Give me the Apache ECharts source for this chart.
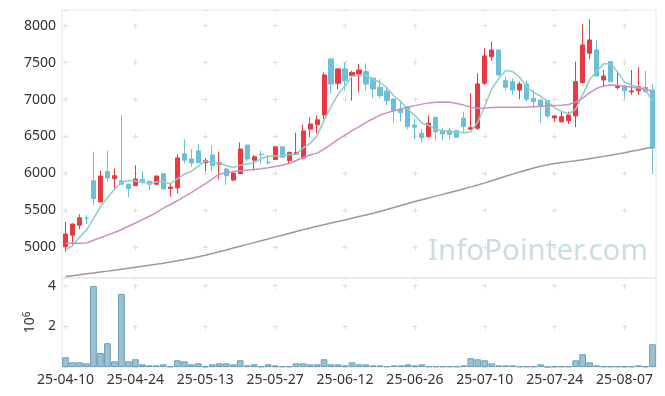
<!DOCTYPE html>
<html><head><meta charset="utf-8">
<script src="https://cdn.jsdelivr.net/npm/echarts@6/dist/echarts.min.js"></script>
<style>html,body{margin:0;padding:0;background:#fff}#c{width:665px;height:396px}</style>
</head><body><div id="c"></div>
<script>
const dates = ['25-04-10','25-04-11','25-04-14','25-04-15','25-04-16','25-04-17','25-04-18','25-04-21','25-04-22','25-04-23',
'25-04-24','25-04-25','25-04-28','25-04-29','25-04-30','25-05-02','25-05-07','25-05-08','25-05-09','25-05-12',
'25-05-13','25-05-14','25-05-15','25-05-16','25-05-19','25-05-20','25-05-21','25-05-22','25-05-23','25-05-26',
'25-05-27','25-05-28','25-05-29','25-05-30','25-06-02','25-06-04','25-06-05','25-06-09','25-06-10','25-06-11',
'25-06-12','25-06-13','25-06-16','25-06-17','25-06-18','25-06-19','25-06-20','25-06-23','25-06-24','25-06-25',
'25-06-26','25-06-27','25-06-30','25-07-01','25-07-02','25-07-03','25-07-04','25-07-07','25-07-08','25-07-09',
'25-07-10','25-07-11','25-07-14','25-07-15','25-07-16','25-07-17','25-07-18','25-07-21','25-07-22','25-07-23',
'25-07-24','25-07-25','25-07-28','25-07-29','25-07-30','25-07-31','25-08-01','25-08-04','25-08-05','25-08-06',
'25-08-07','25-08-08','25-08-11','25-08-12','25-08-13'];
const opens = [5010,5165,5300,5395,5900,5615,6025,5930,5900,5855,
5835,5920,5895,5855,5995,5795,5805,6265,6195,6305,
6145,6250,6125,6060,5910,6000,6385,6180,6260,6150,
6190,6360,6175,6263,6210,6600,6660,6790,7550,7220,
7415,7325,7345,7378,7288,7165,7115,7008,6872,6905,
6656,6543,6498,6760,6580,6580,6579,6750,6598,6611,
7221,7580,7671,7256,7242,7130,7211,7017,6994,6985,
6750,6700,6714,6778,7229,7627,7671,7265,7513,7161,
7184,7103,7120,7166,7130];
const closes = [5180,5315,5400,5390,5660,5965,5940,5970,5855,5795,
5925,5880,5855,5965,5790,5815,6210,6180,6140,6145,
6175,6105,6145,5970,6005,6330,6195,6225,6255,6145,
6360,6220,6285,6285,6575,6670,6725,7333,7210,7414,
7255,7365,7400,7210,7143,7053,6985,6850,6822,6633,
6625,6484,6679,6565,6535,6530,6490,6633,6620,7211,
7590,7671,7333,7166,7130,7211,7004,6971,6904,6778,
6778,6768,6791,7242,7739,7807,7319,7319,7242,7175,
7120,7116,7175,7107,6340];
const lows = [4940,5030,5245,5315,5570,5610,5890,5800,5850,5680,
5830,5855,5775,5840,5785,5685,5730,6137,6090,6140,
6025,6035,5920,5843,5895,5995,6160,6040,6130,6115,
6185,6215,6130,6260,6190,6490,6540,6735,7075,7140,
7120,6985,7100,7120,7020,7018,6923,6687,6700,6598,
6462,6416,6490,6443,6453,6455,6488,6543,6588,6588,
7197,7527,7320,7120,7062,7004,6971,6904,6687,6747,
6700,6687,6670,6625,7220,7546,7310,7166,7235,7139,
7017,7062,7062,7094,5992];
const highs = [5345,5325,5447,5437,6295,6035,6310,6070,6790,5860,
6110,6025,5900,5970,6000,5857,6260,6462,6330,6395,
6205,6380,6295,6075,6015,6420,6390,6250,6310,6250,
6370,6365,6295,6550,6660,6760,6785,7365,7555,7425,
7495,7390,7480,7490,7300,7275,7175,7010,6985,6910,
6747,6600,6782,6765,6611,6611,6585,6836,7085,7356,
7694,7784,7675,7302,7288,7242,7256,7130,7004,6990,
6790,6836,6836,7513,8023,8087,7807,7400,7520,7378,
7197,7400,7437,7387,7211];
const volumes = [480000,230000,230000,180000,3990000,690000,1170000,280000,3600000,280000,
380000,130000,80000,80000,130000,30000,330000,280000,130000,180000,
30000,130000,180000,180000,130000,330000,80000,130000,30000,130000,
80000,30000,30000,180000,180000,130000,130000,380000,130000,130000,
80000,230000,130000,130000,80000,80000,30000,80000,80000,130000,
80000,130000,30000,30000,30000,30000,30000,80000,430000,380000,
330000,180000,80000,80000,80000,30000,30000,30000,130000,0,
30000,30000,30000,330000,630000,230000,80000,30000,30000,30000,
30000,30000,80000,30000,1120000];
const ma5 = [4963,5022,5135,5234,5389,5546,5671,5785,5878,5905,
5897,5885,5862,5884,5883,5861,5927,5992,6027,6098,
6170,6149,6142,6108,6080,6111,6129,6145,6202,6230,
6236,6241,6253,6259,6345,6407,6508,6718,6903,7070,
7187,7315,7329,7329,7275,7234,7158,7048,6971,6869,
6783,6683,6649,6597,6578,6559,6560,6551,6562,6697,
6909,7145,7285,7394,7378,7302,7169,7096,7044,6974,
6887,6840,6804,6871,7064,7269,7380,7485,7485,7372,
7235,7194,7166,7139,6972];
const ma20 = [5054,5054,5054,5058,5095,5130,5165,5200,5238,5285,
5330,5375,5420,5470,5530,5580,5630,5685,5740,5800,
5860,5925,5990,6010,6025,6035,6045,6055,6065,6078,
6093,6110,6135,6175,6215,6250,6275,6330,6395,6460,
6520,6580,6630,6690,6740,6790,6820,6848,6872,6895,
6918,6938,6955,6965,6968,6962,6948,6925,6895,6882,
6884,6893,6897,6896,6895,6897,6900,6904,6908,6913,
6918,6923,6932,6965,7020,7090,7150,7185,7198,7193,
7180,7165,7152,7140,7110];
const ma120 = [4605,4617,4629,4641,4653,4666,4678,4691,4704,4717,
4731,4744,4758,4772,4786,4801,4817,4834,4852,4872,
4894,4917,4941,4965,4990,5015,5040,5064,5089,5113,
5138,5163,5188,5213,5238,5262,5285,5307,5328,5349,
5370,5393,5416,5439,5462,5486,5512,5539,5566,5593,
5620,5645,5669,5693,5717,5741,5766,5792,5818,5844,
5872,5901,5931,5961,5991,6020,6047,6073,6097,6118,
6135,6148,6160,6172,6185,6200,6215,6231,6247,6263,
6280,6299,6318,6338,6358];

const FONT = 'Noto Sans';
const plus = '#dedede';
const ohlc = dates.map((d, i) => [opens[i], closes[i], lows[i], highs[i]]);
const chart = echarts.init(document.getElementById('c'), null, {renderer: 'canvas'});
chart.setOption({
  animation: false,
  backgroundColor: '#ffffff',
  textStyle: {fontFamily: FONT},
  grid: [
    {left: 62, right: 9, top: 10, height: 268, show: true, borderColor: '#e6e6e6', borderWidth: 1},
    {left: 62, right: 9, top: 278, height: 89, show: true, borderColor: '#e6e6e6', borderWidth: 1}
  ],
  xAxis: [
    {type: 'category', gridIndex: 0, data: dates, boundaryGap: true,
     axisLine: {show: false}, axisTick: {show: false}, axisLabel: {show: false},
     splitLine: {show: true, interval: 9, alignWithLabel: true,
       lineStyle: {color: plus, width: 1, type: [5, 31.945], dashOffset: 23.78}}},
    {type: 'category', gridIndex: 1, data: dates, boundaryGap: true,
     axisLine: {show: false}, axisTick: {show: false},
     axisLabel: {interval: 9, fontFamily: FONT, fontSize: 14, color: '#333', margin: 6},
     splitLine: {show: true, interval: 9, alignWithLabel: true,
       lineStyle: {color: plus, width: 1, type: [5, 35.6], dashOffset: 34.4}}}
  ],
  yAxis: [
    {type: 'value', gridIndex: 0, min: 4585, max: 8212, splitNumber: 7,
     axisLine: {show: false}, axisTick: {show: false},
     axisLabel: {showMinLabel: false, showMaxLabel: false, fontFamily: FONT, fontSize: 14, color: '#333', margin: 6,
       formatter: v => String(v)},
     splitLine: {show: true, lineStyle: {color: plus, width: 1, type: [5, 64.88], dashOffset: 68.88}}},
    {type: 'value', gridIndex: 1, min: 0, max: 4380000, splitNumber: 2,
     axisLine: {show: false}, axisTick: {show: false},
     axisLabel: {showMinLabel: false, showMaxLabel: false, fontFamily: FONT, fontSize: 14, color: '#333', margin: 6,
       formatter: v => String(v / 1e6)},
     splitLine: {show: true, lineStyle: {color: plus, width: 1, type: [5, 64.88], dashOffset: 68.88}},
     name: '10{s|6}', nameLocation: 'middle', nameRotate: 90, nameGap: 17,
     nameTextStyle: {fontFamily: FONT, fontSize: 14, color: '#333',
       rich: {s: {fontFamily: FONT, fontSize: 10, color: '#333', verticalAlign: 'top', padding: [0, 0, 6, 0]}}}}
  ],
  graphic: [
    {type: 'text', right: 17, top: 237, z: 0, silent: true,
     style: {text: 'InfoPointer.com', fontFamily: FONT, fontSize: 29.5, fill: '#c9dce7'}}
  ],
  series: [
    {type: 'candlestick', xAxisIndex: 0, yAxisIndex: 0, data: ohlc, barWidth: '66%',
     itemStyle: {color: '#ea3a3f', color0: '#6cbfd9', borderColor: '#ea3a3f', borderColor0: '#6cbfd9', borderWidth: 1}},
    {type: 'line', xAxisIndex: 0, yAxisIndex: 0, data: ma5, symbol: 'none',
     lineStyle: {color: '#8fcfc1', width: 1.5}},
    {type: 'line', xAxisIndex: 0, yAxisIndex: 0, data: ma20, symbol: 'none',
     lineStyle: {color: '#cc8fc8', width: 1.5}},
    {type: 'line', xAxisIndex: 0, yAxisIndex: 0, data: ma120, symbol: 'none',
     lineStyle: {color: '#999999', width: 1.5}},
    {type: 'bar', xAxisIndex: 1, yAxisIndex: 1, data: volumes, barCategoryGap: '4%',
     itemStyle: {color: '#9cc1d1', borderColor: '#6a9fb8', borderWidth: 1}}
  ]
});
</script></body></html>
